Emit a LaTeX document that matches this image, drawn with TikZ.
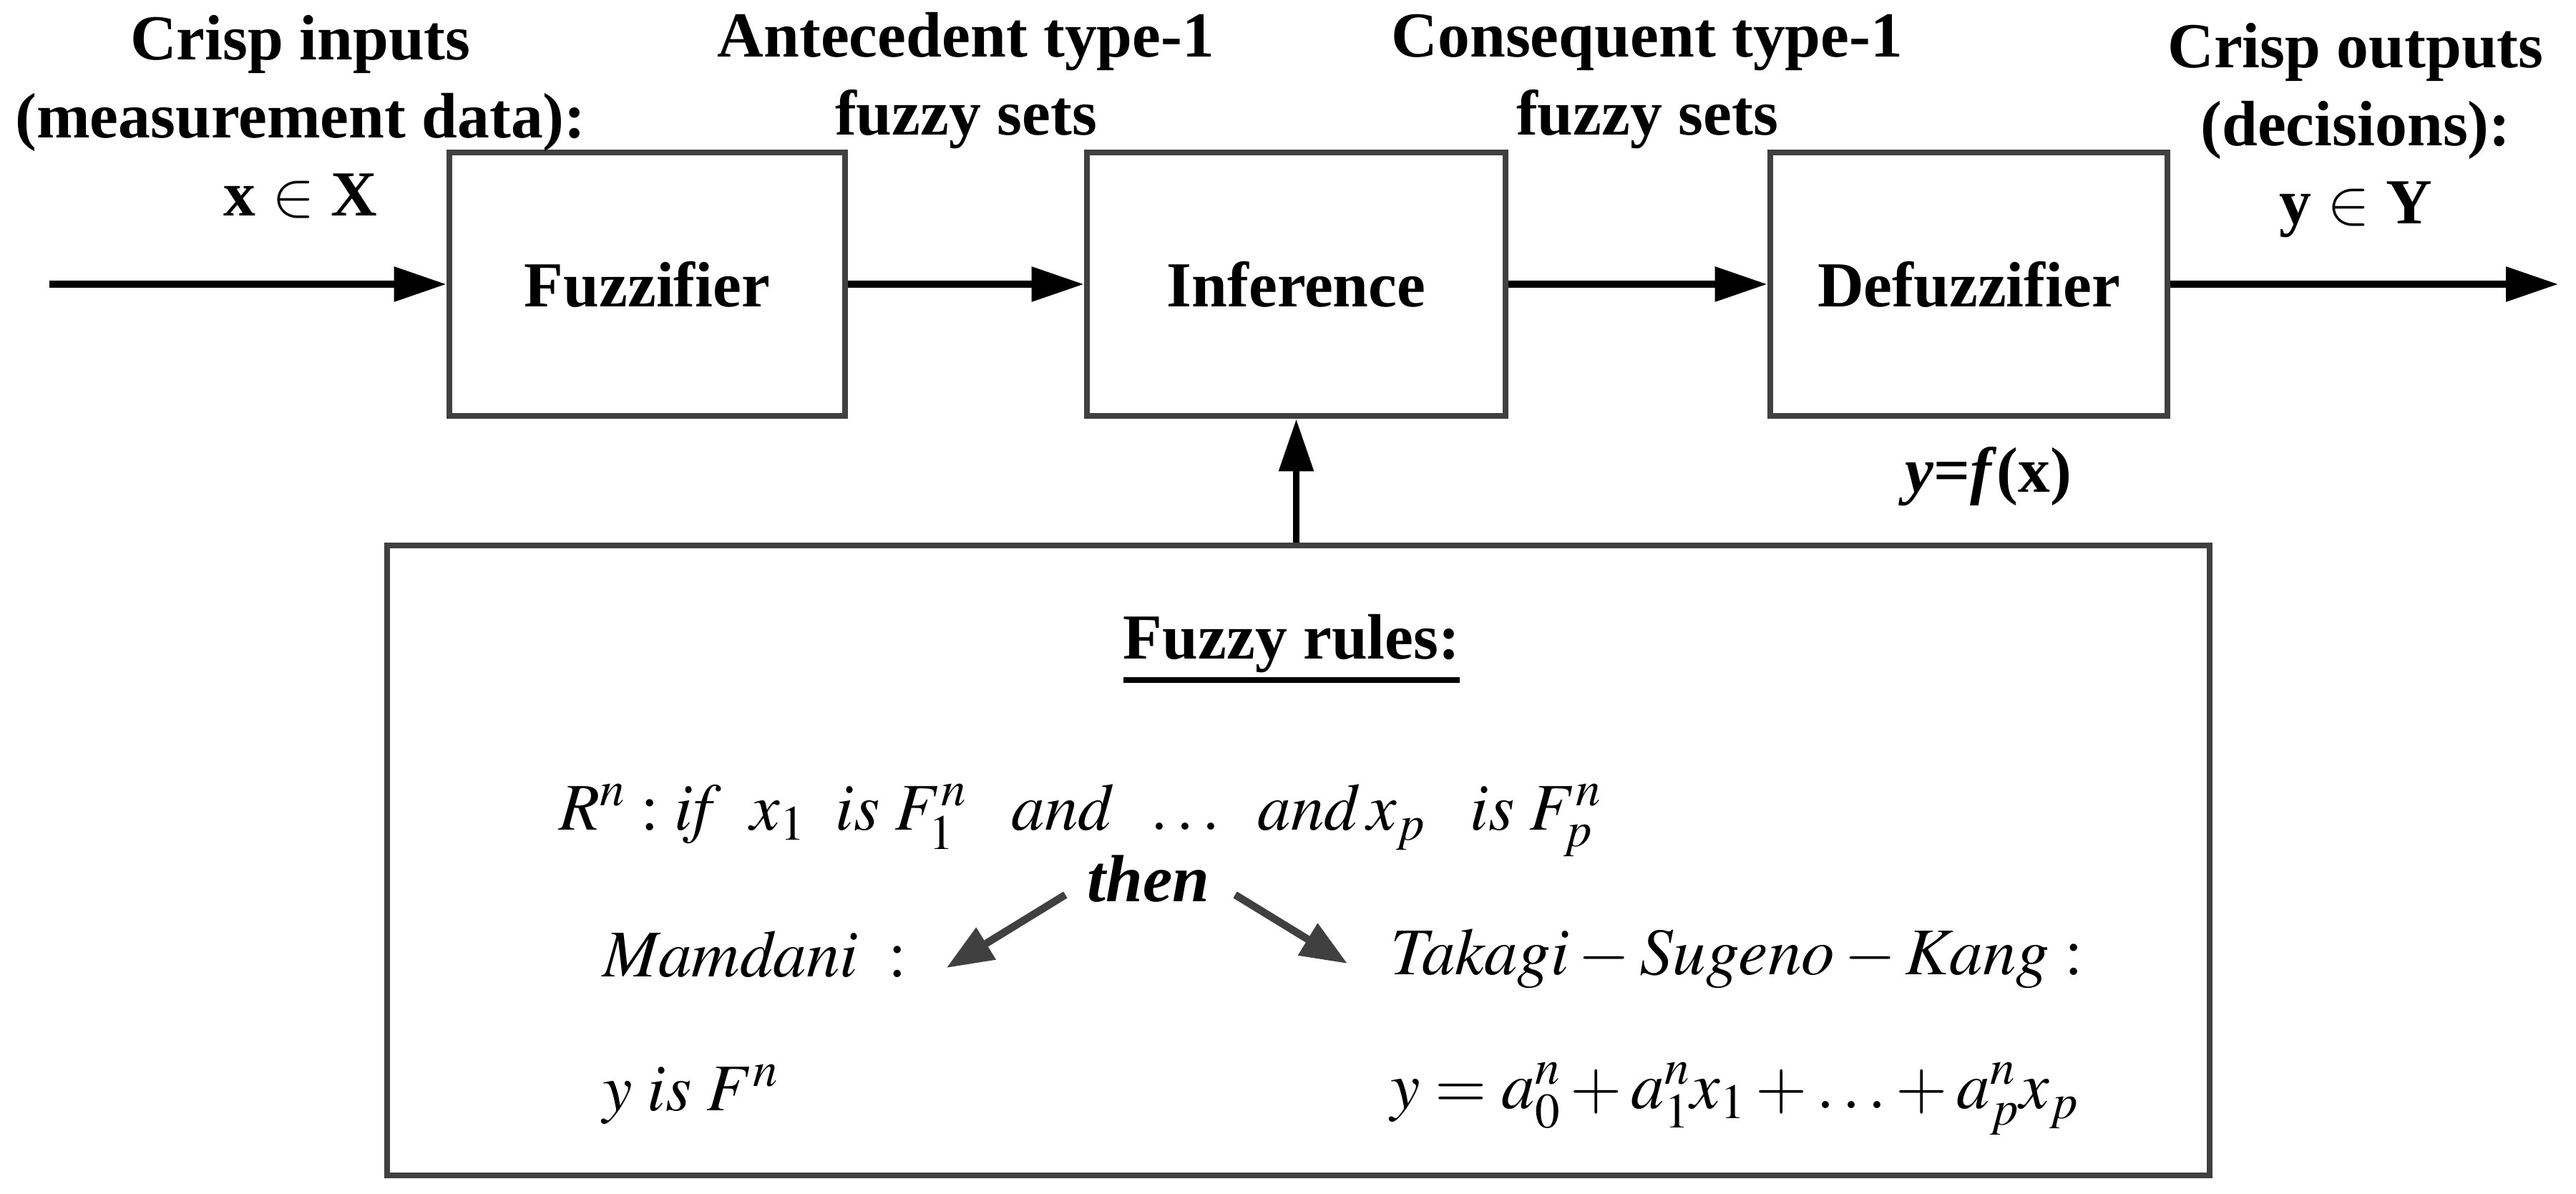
\documentclass[tikz,border=0pt]{standalone}
\usepackage{mathptmx}
\usepackage[no-math]{fontspec}
\setmainfont{Liberation Serif}
\usepackage{tikz}
\usetikzlibrary{arrows.meta,positioning}

\definecolor{boxgray}{HTML}{404040}
\newcommand{\rulehead}[1]{\vtop{\hbox{#1}\kern2pt\hrule height 2.2pt}}

\tikzset{
  txt/.style={font=\fontsize{25.5}{31}\selectfont\bfseries, align=center, inner sep=0pt},
  blk/.style={draw=boxgray, line width=2.5pt, minimum height=3.68cm, font=\fontsize{25.5}{31}\selectfont\bfseries},
  flow/.style={line width=2.6pt, -{Triangle[length=0.73cm,width=0.47cm]}},
  pick/.style={draw=boxgray, line width=3pt, -{Triangle[length=0.65cm,width=0.5cm]}},
  eq/.style={font=\fontsize{26.5}{32}\selectfont, inner sep=0pt}
}

\begin{document}
\begin{tikzpicture}
\useasboundingbox (0,0) rectangle (36,-16.67);

% Blocks
\node[blk, minimum width=5.53cm] (fuz) at (9.045,-3.97) {Fuzzifier};
\node[blk, minimum width=5.85cm] (inf) at (18.115,-3.97) {Inference};
\node[blk, minimum width=5.55cm] (def) at (27.515,-3.97) {Defuzzifier};
\node[draw=boxgray, line width=2.5pt, minimum width=25.47cm, minimum height=8.80cm] (rules) at (18.145,-12.02) {};

% Labels along the signal line (base = last line)
\node[txt, anchor=base] (inlbl) at (4.20,-3.01) {Crisp inputs\\(measurement data):\\x $\in$\ X};
\node[txt, anchor=base] (antlbl) at (13.50,-1.88) {Antecedent type-1\\fuzzy sets};
\node[txt, anchor=base] (conlbl) at (23.02,-1.88) {Consequent type-1\\fuzzy sets};
\node[txt, anchor=base] (outlbl) at (32.92,-3.12) {Crisp outputs\\(decisions):\\y $\in$ Y};
\node[txt, anchor=base] (yfx) at (27.79,-6.87) {\textit{y}=\textit{f}(x)};

% Signal flow
\coordinate (src) at (0.69,-3.97);
\coordinate (snk) at (35.75,-3.97);
\draw[flow] (src) -- (fuz);
\draw[flow] (fuz) -- (inf);
\draw[flow] (inf) -- (def);
\draw[flow] (def) -- (snk);
\draw[flow] (rules.north -| inf.south) -- (inf.south);

% Rule base
\node[txt, anchor=base] (rhead) at (18.05,-9.20) {\rulehead{Fuzzy rules:}};
\node[eq, anchor=base west] (rn) at (7.81,-11.59) {$R^n : \mathit{if}\;\; x_1\;\;\mathit{is}\;F_1^n\;\;\;\mathit{and}\;\;\ldots\;\;\mathit{and}\,x_p\;\;\;\mathit{is}\;F_p^n$};
\node[eq, anchor=base] (then) at (16.05,-12.59) {\textbf{\textit{then}}};
\node[eq, anchor=base west] (mam) at (8.42,-13.64) {$\mathit{Mamdani}\;:$};
\node[eq, anchor=base west] (mamy) at (8.42,-15.51) {$y\;\mathit{is}\;F^n$};
\node[eq, anchor=base west] (tsk) at (19.43,-13.61) {$\mathit{Takagi}-\mathit{Sugeno}-\mathit{Kang}:$};
\node[eq, anchor=base west] (tsky) at (19.43,-15.48) {$y=a_0^n+a_1^nx_1+\ldots+a_p^nx_p$};

\draw[pick] ([xshift=-0.30cm,yshift=0.09cm]then.base west) -- ([xshift=0.55cm,yshift=0.12cm]mam.base east);
\draw[pick] ([xshift=0.35cm,yshift=0.09cm]then.base east) -- ([xshift=-0.60cm,yshift=0.15cm]tsk.base west);
\end{tikzpicture}
\end{document}
